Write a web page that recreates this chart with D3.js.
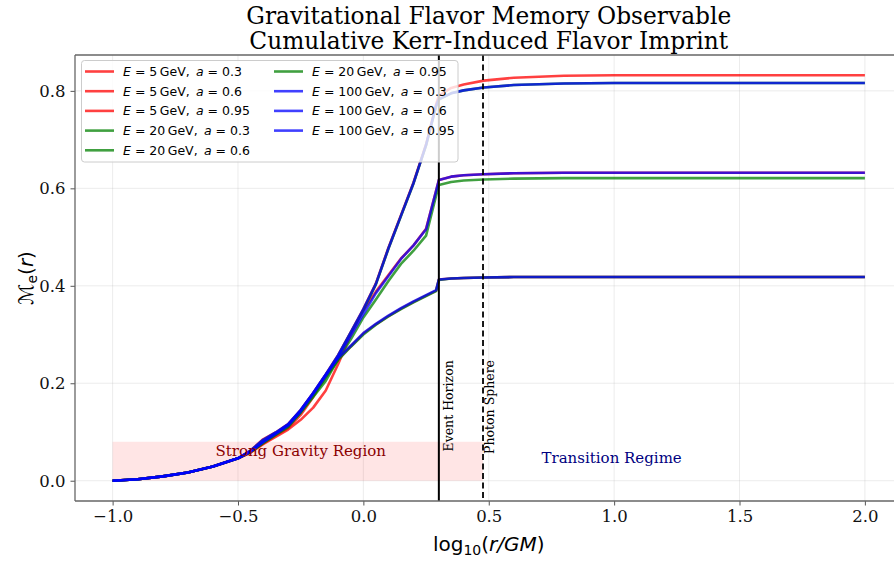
<!DOCTYPE html>
<html><head><meta charset="utf-8">
<script src="https://cdn.jsdelivr.net/npm/d3@7"></script>
<style>body{margin:0;background:#fff}svg{display:block}</style>
</head><body>
<svg id="chart" width="894" height="563"></svg>
<script>
// ---- data ----
const xGrid = [-1.0,-0.9,-0.8,-0.7,-0.6,-0.5,-0.45,-0.4,-0.35,-0.3,-0.25,-0.2,-0.15,-0.1,-0.05,0.0,0.05,0.1,0.15,0.2,0.25,0.29,0.301,0.35,0.4,0.48,0.6,0.8,1.0,1.5,2.0];
const e5a03   = [0,0.003,0.009,0.017,0.029,0.046,0.058,0.076,0.093,0.108,0.135,0.172,0.215,0.25,0.276,0.302,0.321,0.338,0.353,0.367,0.38,0.39,0.413,0.415,0.416,0.417,0.418,0.418,0.418,0.418,0.418];
const e5a06   = [0,0.003,0.009,0.017,0.029,0.046,0.058,0.075,0.09,0.105,0.125,0.15,0.185,0.24,0.3,0.35,0.388,0.422,0.456,0.483,0.517,0.595,0.617,0.624,0.627,0.629,0.631,0.632,0.632,0.632,0.632];
const e5a095  = [0,0.003,0.009,0.017,0.029,0.046,0.062,0.085,0.099,0.116,0.145,0.18,0.218,0.258,0.305,0.352,0.405,0.478,0.545,0.612,0.69,0.772,0.79,0.806,0.813,0.821,0.827,0.831,0.832,0.832,0.832];
const e20a03  = [0,0.003,0.009,0.017,0.029,0.046,0.059,0.078,0.095,0.112,0.14,0.175,0.212,0.248,0.275,0.3,0.32,0.337,0.352,0.366,0.379,0.389,0.412,0.415,0.416,0.417,0.418,0.418,0.418,0.418,0.418];
const e20a06  = [0,0.003,0.009,0.017,0.029,0.046,0.059,0.077,0.094,0.11,0.14,0.172,0.205,0.25,0.29,0.335,0.372,0.41,0.445,0.472,0.503,0.585,0.607,0.613,0.616,0.618,0.62,0.621,0.621,0.621,0.621];
const e20a095 = [0,0.003,0.009,0.017,0.029,0.046,0.061,0.083,0.098,0.115,0.144,0.179,0.217,0.257,0.304,0.35,0.403,0.476,0.543,0.61,0.688,0.768,0.782,0.795,0.801,0.807,0.812,0.815,0.816,0.816,0.816];
const e100a03 = [0,0.003,0.009,0.017,0.029,0.046,0.06,0.08,0.097,0.115,0.145,0.18,0.218,0.252,0.277,0.303,0.322,0.339,0.354,0.368,0.381,0.391,0.413,0.415,0.416,0.417,0.418,0.418,0.418,0.418,0.418];
const e100a06 = [0,0.003,0.009,0.017,0.029,0.046,0.06,0.079,0.096,0.113,0.142,0.178,0.215,0.255,0.298,0.342,0.385,0.42,0.455,0.483,0.516,0.595,0.617,0.624,0.627,0.629,0.631,0.632,0.632,0.632,0.632];
const e100a095= [0,0.003,0.009,0.017,0.029,0.046,0.062,0.084,0.099,0.116,0.145,0.18,0.218,0.258,0.305,0.352,0.404,0.477,0.544,0.611,0.689,0.77,0.783,0.795,0.801,0.807,0.812,0.815,0.816,0.816,0.816];
const energies = [5, 20, 100];
const spins = ["0.3", "0.6", "0.95"];
const seriesValues = [e5a03, e5a06, e5a095, e20a03, e20a06, e20a095, e100a03, e100a06, e100a095];
const energyColors = ["#ff0000", "#008000", "#0000ff"];
const xTicks = [-1.0, -0.5, 0.0, 0.5, 1.0, 1.5, 2.0];
const yTicks = [0.0, 0.2, 0.4, 0.6, 0.8];
const horizonX = Math.log10(2);
const photonX = Math.log10(3);
const strongRegion = {x0: -1.0, x1: Math.log10(3), y0: 0, y1: 0.08};

// ---- layout ----
const svg = d3.select("#chart");
const L = 75, R = 902.5, T = 55, B = 501;
const x = d3.scaleLinear().domain([-1.15, 2.15]).range([L, R]);
const y = d3.scaleLinear().domain([-0.0416, 0.8736]).range([B, T]);

svg.append("defs").append("clipPath").attr("id","clip")
  .append("rect").attr("x",L).attr("y",T).attr("width",R-L).attr("height",B-T);

// grid
const grid = svg.append("g");
xTicks.forEach(t => grid.append("line").attr("x1",x(t)).attr("x2",x(t)).attr("y1",T).attr("y2",B)
  .attr("stroke","#b0b0b0").attr("stroke-opacity",0.3).attr("stroke-width",0.8));
yTicks.forEach(t => grid.append("line").attr("x1",L).attr("x2",R).attr("y1",y(t)).attr("y2",y(t))
  .attr("stroke","#b0b0b0").attr("stroke-opacity",0.3).attr("stroke-width",0.8));

const plot = svg.append("g").attr("clip-path","url(#clip)");
// strong gravity region
plot.append("rect").attr("x",x(strongRegion.x0)).attr("y",y(strongRegion.y1))
  .attr("width",x(strongRegion.x1)-x(strongRegion.x0)).attr("height",y(strongRegion.y0)-y(strongRegion.y1))
  .attr("fill","#ff0000").attr("fill-opacity",0.1);

// lines
const line = d3.line().x((d,i)=>x(xGrid[i])).y(d=>y(d));
seriesValues.forEach((vals, k) => {
  plot.append("path").attr("d", line(vals)).attr("fill","none")
    .attr("stroke", energyColors[Math.floor(k/3)]).attr("stroke-opacity",0.75)
    .attr("stroke-width",2.6).attr("stroke-linejoin","round");
});

// vertical markers
plot.append("line").attr("x1",x(horizonX)).attr("x2",x(horizonX)).attr("y1",T).attr("y2",B)
  .attr("stroke","#000").attr("stroke-width",2);
plot.append("line").attr("x1",x(photonX)).attr("x2",x(photonX)).attr("y1",T).attr("y2",B)
  .attr("stroke","#000").attr("stroke-width",1.8).attr("stroke-dasharray","6,3.5");

// annotations
const serif = "'DejaVu Serif', serif";
svg.append("text").attr("transform",`translate(${x(horizonX)+14},${y(0.06)}) rotate(-90)`)
  .attr("font-family",serif).attr("font-size",12.5).attr("fill","#000").text("Event Horizon");
svg.append("text").attr("transform",`translate(${x(photonX)+11},${y(0.055)}) rotate(-90)`)
  .attr("font-family",serif).attr("font-size",12.5).attr("fill","#000").text("Photon Sphere");
svg.append("text").attr("x",x(-0.25)).attr("y",y(0.051)).attr("text-anchor","middle")
  .attr("font-family",serif).attr("font-size",15).attr("fill","#8b0000").text("Strong Gravity Region");
svg.append("text").attr("x",x(0.99)).attr("y",y(0.036)).attr("text-anchor","middle")
  .attr("font-family",serif).attr("font-size",15).attr("fill","#000080").text("Transition Regime");

// axes
const xAxis = svg.append("g").attr("transform",`translate(0,${B})`)
  .call(d3.axisBottom(x).tickValues(xTicks).tickFormat(d3.format(".1f")).tickSize(4.5).tickPadding(5));
const yAxis = svg.append("g").attr("transform",`translate(${L},0)`)
  .call(d3.axisLeft(y).tickValues(yTicks).tickFormat(d3.format(".1f")).tickSize(4.5).tickPadding(5));
[xAxis,yAxis].forEach(g=>{
  g.select(".domain").remove();
  g.selectAll(".tick line").attr("stroke","#555").attr("stroke-width",1);
  g.selectAll(".tick text").attr("font-family",serif).attr("font-size",16.5).attr("fill","#111");
});
// spines
svg.append("line").attr("x1",L).attr("x2",L).attr("y1",T).attr("y2",B).attr("stroke","#666").attr("stroke-width",1.3);
svg.append("line").attr("x1",L).attr("x2",R).attr("y1",B).attr("y2",B).attr("stroke","#666").attr("stroke-width",1.3);
svg.append("line").attr("x1",L).attr("x2",R).attr("y1",T).attr("y2",T).attr("stroke","#666").attr("stroke-width",1.3);
svg.append("line").attr("x1",R).attr("x2",R).attr("y1",T).attr("y2",B).attr("stroke","#666").attr("stroke-width",1.3);

// title
const cx = (L+R)/2;
svg.append("text").attr("x",cx).attr("y",24).attr("text-anchor","middle").attr("font-family",serif)
  .attr("font-size",23.3).attr("fill","#000").text("Gravitational Flavor Memory Observable");
svg.append("text").attr("x",cx).attr("y",49).attr("text-anchor","middle").attr("font-family",serif)
  .attr("font-size",23.3).attr("fill","#000").text("Cumulative Kerr-Induced Flavor Imprint");

// axis labels
const sans = "'DejaVu Sans', sans-serif";
const xl = svg.append("text").attr("x",cx).attr("y",551).attr("text-anchor","middle")
  .attr("font-family",sans).attr("font-size",20).attr("fill","#000");
xl.append("tspan").text("log");
xl.append("tspan").attr("font-size",14).attr("dy",4).text("10");
xl.append("tspan").attr("dy",-4).text("(");
xl.append("tspan").attr("font-style","italic").text("r/GM");
xl.append("tspan").text(")");

const yl = svg.append("text").attr("transform",`translate(33,${(T+B)/2}) rotate(-90)`).attr("text-anchor","middle")
  .attr("font-family",sans).attr("font-size",20).attr("fill","#000");
yl.append("tspan").text("ℳ");
yl.append("tspan").attr("font-size",14).attr("dy",4).text("e");
yl.append("tspan").attr("dy",-4).text("(");
yl.append("tspan").attr("font-style","italic").text("r");
yl.append("tspan").text(")");

// legend
const lg = svg.append("g");
lg.append("rect").attr("x",81.5).attr("y",60.5).attr("width",376.5).attr("height",101.5).attr("rx",3)
  .attr("fill","#fff").attr("fill-opacity",0.8).attr("stroke","#cccccc").attr("stroke-width",1);
const rowsPerCol = 5;
seriesValues.forEach((vals,k)=>{
  const col = Math.floor(k/rowsPerCol), row = k % rowsPerCol;
  const lx = col===0 ? 85 : 274;
  const ly = 71.5 + row*19.7;
  lg.append("line").attr("x1",lx).attr("x2",lx+29).attr("y1",ly).attr("y2",ly)
    .attr("stroke",energyColors[Math.floor(k/3)]).attr("stroke-opacity",0.75).attr("stroke-width",2.6);
  const t = lg.append("text").attr("x",lx+38).attr("y",ly+4.5).attr("font-family",sans).attr("font-size",12.5).attr("fill","#000");
  t.append("tspan").attr("font-style","italic").text("E");
  t.append("tspan").text(` = ${energies[Math.floor(k/3)]}\u2009GeV,\u2002`);
  t.append("tspan").attr("font-style","italic").text("a");
  t.append("tspan").text(` = ${spins[k%3]}`);
});
</script>
</body></html>
